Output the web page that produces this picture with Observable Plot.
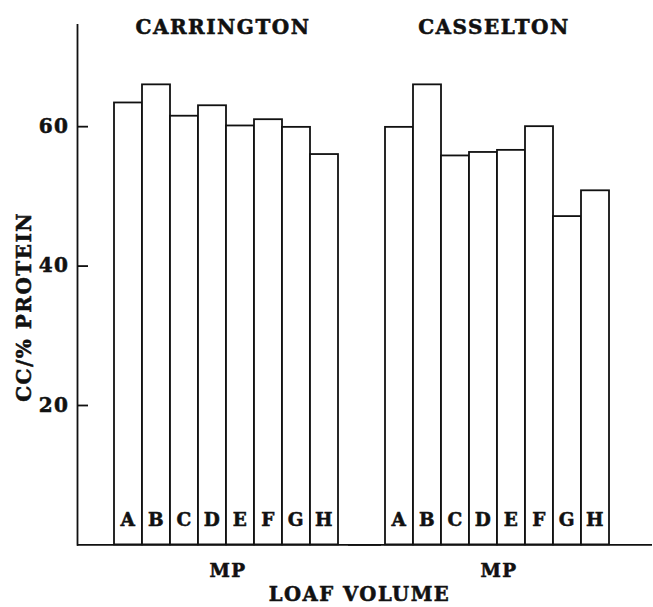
<!DOCTYPE html>
<html><head><meta charset="utf-8">
<script src="https://cdn.jsdelivr.net/npm/d3@7"></script>
<script src="https://cdn.jsdelivr.net/npm/@observablehq/plot@0.6"></script>
<style>
html,body{margin:0;padding:0;background:#fff}
#chart svg text{stroke:#111;stroke-width:0.55px;}
</style>
</head><body><div id="chart"></div>
<script>
const sites = ["CARRINGTON", "CASSELTON"];
const letters = ["A", "B", "C", "D", "E", "F", "G", "H"];
const carrington = [63.4, 66.0, 61.5, 63.0, 60.1, 61.0, 59.9, 56.0];
const casselton = [59.9, 66.0, 55.8, 56.3, 56.6, 60.0, 47.1, 50.8];
const yTicks = [20, 40, 60];
const yLabel = "CC/% PROTEIN";
const groupLabel = "MP";
const xLabel = "LOAF VOLUME";

const data = [carrington, casselton].flatMap((vals, i) =>
  vals.map((v, j) => ({site: sites[i], letter: letters[j], value: v})));

const ink = "#111";
const sw = 1.8;
const facetWidth = 264;
const chart = Plot.plot({
  width: 653, height: 607,
  marginLeft: 76, marginRight: 41, marginTop: 24.4, marginBottom: 62.6,
  style: {fontFamily: "'DejaVu Serif', serif", fontWeight: "bold", fontSize: "20px", color: ink, background: "#fff", letterSpacing: "1.5px"},
  fx: {domain: sites, paddingInner: 0.0294, paddingOuter: 0, axis: null},
  x: {domain: letters, padding: 0, insetLeft: 34.7, axis: null},
  y: {domain: [0, 74.6]},
  marks: [
    Plot.barY(data, {fx: "site", x: "letter", y: "value", fill: "white", stroke: ink, strokeWidth: sw}),
    Plot.text(data, {fx: "site", x: "letter", text: "letter", frameAnchor: "bottom", lineAnchor: "bottom", dy: -18.5, fontSize: 18.5}),
    Plot.axisY({ticks: yTicks, anchor: "left", tickSize: 0, tickPadding: 8, label: null, fontSize: 20}),
    Plot.ruleY(yTicks, {fx: () => sites[0], insetRight: facetWidth - 12, stroke: ink, strokeWidth: sw}),
    Plot.frame({anchor: "left", facetAnchor: "left", stroke: ink, strokeWidth: sw}),
    Plot.ruleY([0], {insetRight: -41, stroke: ink, strokeWidth: sw}),
    Plot.text(sites, {fx: d => d, text: d => d, frameAnchor: "top", lineAnchor: "bottom", dx: 14, dy: 8.9, fontSize: 20}),
    Plot.text(sites, {fx: d => d, text: () => groupLabel, frameAnchor: "bottom", lineAnchor: "bottom", dx: 19, dy: 32.3, fontSize: 18.4}),
    Plot.text([yLabel], {fx: () => sites[0], text: d => d, frameAnchor: "left", textAnchor: "middle", rotate: -90, dx: -53, dy: 22, fontSize: 20}),
    Plot.text([xLabel], {facet: "super", text: d => d, frameAnchor: "bottom", lineAnchor: "bottom", dx: 15, dy: 56, fontSize: 19.6})
  ]
});
document.getElementById("chart").appendChild(chart);
</script>
</body></html>
